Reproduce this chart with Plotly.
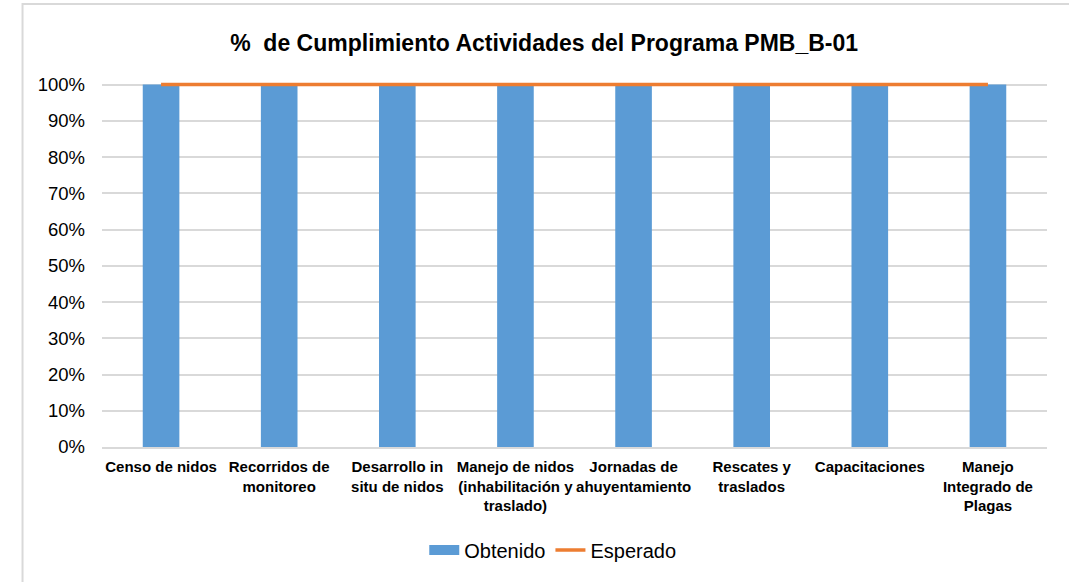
import plotly.graph_objects as go

categorias = [
    "Censo de nidos",
    "Recorridos de<br>monitoreo",
    "Desarrollo in<br>situ de nidos",
    "Manejo de nidos<br>(inhabilitación y<br>traslado)",
    "Jornadas de<br>ahuyentamiento",
    "Rescates y<br>traslados",
    "Capacitaciones",
    "Manejo<br>Integrado de<br>Plagas",
]
obtenido = [1.0, 1.0, 1.0, 1.0, 1.0, 1.0, 1.0, 1.0]
esperado = [1.0, 1.0, 1.0, 1.0, 1.0, 1.0, 1.0, 1.0]

AZUL = "#5b9bd5"
NARANJA = "#ed7d31"
GRIS = "#d9d9d9"
FUENTE = "Liberation Sans, Arial, sans-serif"

fig = go.Figure()
fig.add_trace(go.Bar(x=categorias, y=obtenido, name="Obtenido", showlegend=False,
                     marker=dict(color=AZUL, line=dict(width=0))))
# legend entry for the bars, shown as a wide band
fig.add_trace(go.Scatter(x=[None], y=[None], name="Obtenido", mode="lines",
                         line=dict(color=AZUL, width=10)))
fig.add_trace(go.Scatter(x=categorias, y=esperado, name="Esperado", mode="lines",
                         line=dict(color=NARANJA, width=3.5)))

# chart frame
fig.add_shape(type="rect", xref="paper", yref="paper",
              x0=-0.0841, x1=1.2, y0=-0.6, y1=1.2103,
              line=dict(color=GRIS, width=2), fillcolor="rgba(0,0,0,0)", layer="below")

fig.update_layout(
    width=1069, height=582,
    margin=dict(l=102, r=22, t=81.4, b=135),
    paper_bgcolor="white", plot_bgcolor="white",
    font=dict(family=FUENTE, color="#000000"),
    title=dict(text="<b>%  de Cumplimiento Actividades del Programa PMB_B-01</b>",
               x=0.509, xanchor="center", y=0.927, yanchor="middle",
               font=dict(size=23, family=FUENTE, color="#000000")),
    bargap=0.69,
    showlegend=True,
    legend=dict(orientation="h", x=0.477, xanchor="center", y=-0.2817, yanchor="middle",
                font=dict(size=20, family=FUENTE), traceorder="normal"),
    xaxis=dict(showgrid=False, showline=True, linecolor=GRIS, linewidth=2,
               ticks="", tickangle=0, ticklabelstandoff=5,
               tickfont=dict(size=15, family=FUENTE, color="#000000", weight="bold"),
               fixedrange=True),
    yaxis=dict(range=[0, 1.01], tickvals=[i / 10 for i in range(11)], tickformat=".0%",
               showgrid=True, gridcolor=GRIS, gridwidth=2, zeroline=False, showline=False,
               ticks="", ticklabelstandoff=16,
               tickfont=dict(size=18.5, family=FUENTE, color="#000000")),
)

fig.write_html("out.html")
